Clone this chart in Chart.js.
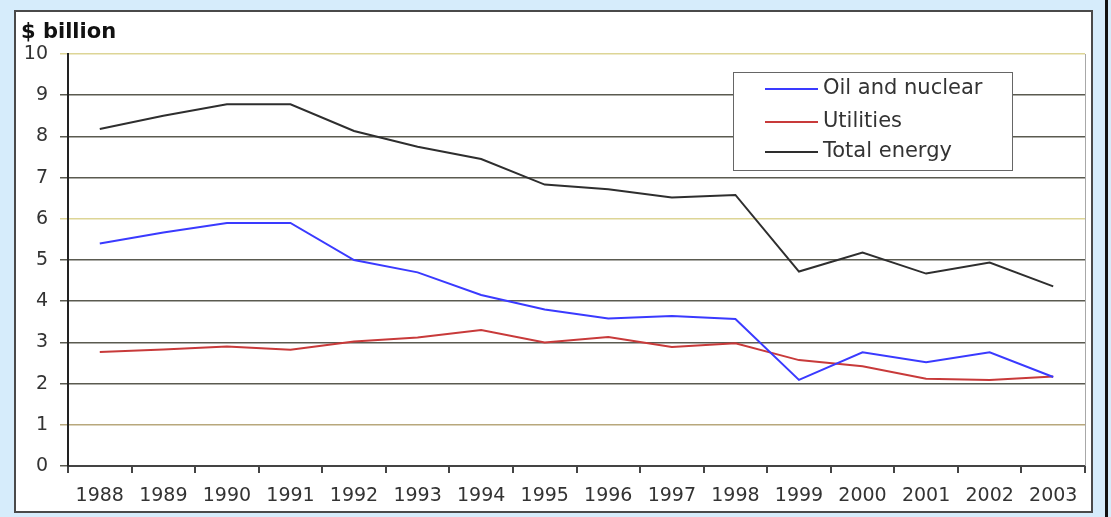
<!DOCTYPE html>
<html>
<head>
<meta charset="utf-8">
<script src="https://cdn.jsdelivr.net/npm/chart.js@4"></script>
<style>
    html, body { margin: 0; padding: 0; background: #d6ecfb; }
    #wrap { width: 1111px; height: 517px; }
</style>
</head>
<body>
<div id="wrap"><canvas id="energyChart" width="1111" height="517"></canvas></div>
<script>
// Data ($ billion)
const years = ['1988', '1989', '1990', '1991', '1992', '1993', '1994', '1995',
               '1996', '1997', '1998', '1999', '2000', '2001', '2002', '2003'];
const oilNuclear = [5.4, 5.67, 5.9, 5.9, 5.0, 4.7, 4.15, 3.8, 3.58, 3.64, 3.57, 2.09, 2.76, 2.52, 2.76, 2.16];
const utilities = [2.77, 2.83, 2.9, 2.82, 3.02, 3.12, 3.3, 3.0, 3.13, 2.89, 2.98, 2.57, 2.42, 2.12, 2.09, 2.17];
const totalEnergy = [8.18, 8.5, 8.78, 8.78, 8.13, 7.75, 7.45, 6.83, 6.72, 6.52, 6.58, 4.72, 5.18, 4.67, 4.94, 4.36];
const yTicks = [0, 1, 2, 3, 4, 5, 6, 7, 8, 9, 10];

const FONT = '"DejaVu Sans", Verdana, sans-serif';

// Frame, axis unit label, plot border and legend box
const decorPlugin = {
    id: 'decor',
    beforeDraw(chart) {
        const c = chart.ctx;
        c.save();
        c.fillStyle = '#d6ecfb';
        c.fillRect(0, 0, chart.width, chart.height);
        c.fillStyle = '#ffffff';
        c.fillRect(15, 11, 1077, 501);
        c.strokeStyle = '#4a4a4a';
        c.lineWidth = 2;
        c.strokeRect(15, 11, 1077, 501);
        c.fillStyle = '#111';
        c.fillRect(1105, 0, 3, chart.height);
        c.restore();
    },
    afterDraw(chart) {
        const c = chart.ctx;
        const area = chart.chartArea;
        c.save();
        // right edge of the plot
        c.strokeStyle = '#a8a8a8';
        c.lineWidth = 1;
        c.beginPath();
        c.moveTo(area.right + 0.5, area.top);
        c.lineTo(area.right + 0.5, area.bottom);
        c.stroke();

        // "$ billion"
        c.fillStyle = '#111';
        c.font = 'bold 21px ' + FONT;
        c.textBaseline = 'middle';
        c.textAlign = 'left';
        c.fillText('$ billion', 21, 33);

        // legend
        const lx = 733, ly = 72, lw = 279, lh = 98;
        c.fillStyle = '#ffffff';
        c.fillRect(lx, ly, lw, lh);
        c.strokeStyle = '#666';
        c.lineWidth = 1;
        c.strokeRect(lx + 0.5, ly + 0.5, lw, lh);
        c.font = '21px ' + FONT;
        const rows = [89, 122, 152];
        chart.data.datasets.forEach((ds, i) => {
            c.strokeStyle = ds.borderColor;
            c.lineWidth = 2;
            c.beginPath();
            c.moveTo(765, rows[i]);
            c.lineTo(818, rows[i]);
            c.stroke();
            c.fillStyle = '#333';
            c.fillText(ds.label, 823, rows[i]);
        });
        c.restore();
    }
};

function gridColor(ctx) {
    const v = ctx.tick ? ctx.tick.value : 0;
    if (v === 10 || v === 6) return '#ddd596';
    if (v === 1) return '#b8a87c';
    return '#5a5a50';
}

const ctx = document.getElementById('energyChart').getContext('2d');
const energyChart = new Chart(ctx, {
    type: 'line',
    data: {
        labels: years,
        datasets: [
            {
                label: 'Oil and nuclear',
                data: oilNuclear,
                borderColor: '#3a3aff',
                borderWidth: 2,
                pointRadius: 0,
                tension: 0,
                fill: false
            },
            {
                label: 'Utilities',
                data: utilities,
                borderColor: '#c83a3a',
                borderWidth: 2,
                pointRadius: 0,
                tension: 0,
                fill: false
            },
            {
                label: 'Total energy',
                data: totalEnergy,
                borderColor: '#2e2e2e',
                borderWidth: 2,
                pointRadius: 0,
                tension: 0,
                fill: false
            }
        ]
    },
    options: {
        responsive: false,
        animation: false,
        layout: { padding: { left: 0, top: 54, right: 26, bottom: 0 } },
        plugins: {
            legend: { display: false },
            tooltip: { enabled: false }
        },
        scales: {
            x: {
                type: 'category',
                offset: true,
                grid: {
                    offset: true,
                    drawOnChartArea: false,
                    drawTicks: true,
                    tickLength: 7,
                    tickColor: '#444',
                    lineWidth: 2
                },
                border: { display: true, color: '#444', width: 2 },
                ticks: {
                    color: '#333',
                    font: { family: FONT, size: 19 },
                    padding: 12,
                    maxRotation: 0,
                    autoSkip: false
                },
                afterFit(scale) { scale.height = 51; }
            },
            y: {
                min: 0,
                max: 10,
                afterBuildTicks(scale) {
                    scale.ticks = yTicks.map(v => ({ value: v }));
                },
                grid: {
                    color: gridColor,
                    tickColor: gridColor,
                    lineWidth: 1.5,
                    tickLength: 8
                },
                border: { display: true, color: '#222', width: 2 },
                ticks: {
                    color: '#333',
                    font: { family: FONT, size: 19 },
                    padding: 12
                },
                afterFit(scale) { scale.width = 68; }
            }
        }
    },
    plugins: [decorPlugin]
});
</script>
</body>
</html>
